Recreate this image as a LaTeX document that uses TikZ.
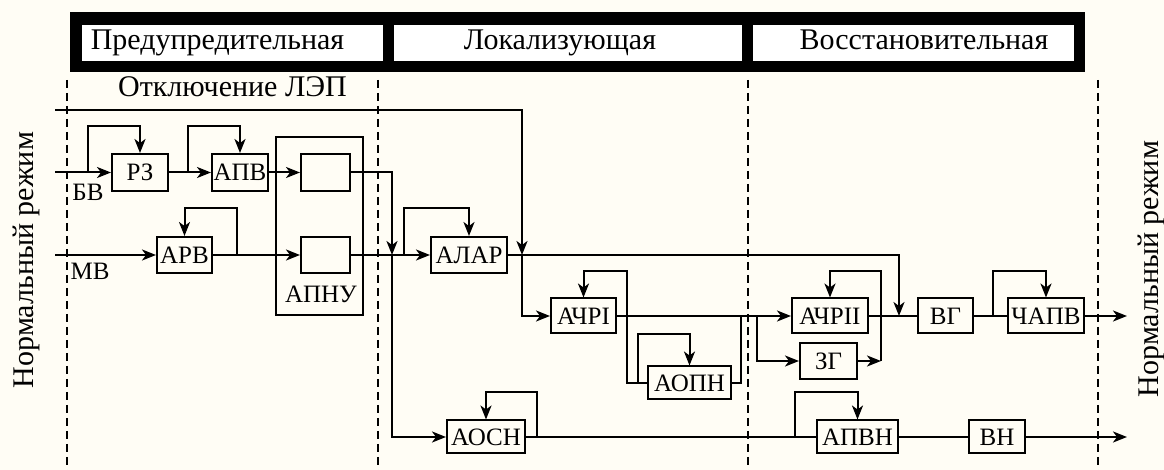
\documentclass[tikz,border=0pt]{standalone}
\usepackage{fontspec}
\setmainfont{Liberation Serif}
\usetikzlibrary{arrows.meta}
\definecolor{paper}{RGB}{255,253,245}

\begin{document}
\begin{tikzpicture}[x=0.5pt,y=-0.5pt,line width=1pt,
  blk/.style={draw,inner sep=0pt,minimum height=17.5pt,font=\fontsize{12.5}{12.5}\selectfont},
  cell/.style={fill=white,inner sep=0pt,minimum height=18pt},
  lbl/.style={inner sep=0pt,anchor=base,font=\fontsize{15}{15}\selectfont},
  sml/.style={inner sep=0pt,anchor=base,font=\fontsize{12.5}{12.5}\selectfont},
  flow/.style={-{Stealth[length=7pt,width=5.5pt,inset=2pt]}},
  sep/.style={line width=0.8pt,dash pattern=on 4pt off 2.5pt}]
\fill[paper] (0,0) rectangle (1164,470);
\useasboundingbox (0,0) rectangle (1164,470);

% stages
\fill (70,12) rectangle (1085,72);
\node[cell,minimum width=150.5pt] (H1) at (232.5,43) {};
\node[cell,minimum width=174pt] (H2) at (568,43) {};
\node[cell,minimum width=160.5pt] (H3) at (913.5,43) {};
\node[lbl] (T1) at (217.5,50) {Предупредительная};
\node[lbl] (T2) at (560,50) {Локализующая};
\node[lbl] (T3) at (924,50) {Восстановительная};

\draw[sep] (67,80) -- (67,470);
\draw[sep] (378,80) -- (378,470);
\draw[sep] (748,80) -- (748,470);
\draw[sep] (1098,80) -- (1098,470);

\node[lbl] (OFF) at (232.5,97) {Отключение ЛЭП};
\node[lbl,rotate=90] (NL) at (33,260) {Нормальный режим};
\node[lbl,rotate=90] (NR) at (1158,269) {Нормальный режим};
\node[sml] (BV) at (88,201) {БВ};
\node[sml] (MV) at (90,280) {МВ};

% blocks
\node[blk,minimum width=28pt,minimum height=18.5pt] (RZ) at (140,172.5) {РЗ};
\node[blk,minimum width=28pt,minimum height=18.5pt] (APV) at (240,172.5) {АПВ};
\node[draw,minimum width=43.5pt,minimum height=89pt] (APNU) at (319.5,226) {};
\node[blk,minimum width=24.5pt,minimum height=18.5pt] (U1) at (325.5,172.5) {};
\node[blk,minimum width=24.5pt,minimum height=18pt] (U2) at (325.5,255) {};
\node[sml] (APNUt) at (321,303) {АПНУ};
\node[blk,minimum width=27.5pt,minimum height=18pt] (ARV) at (184.5,255) {АРВ};
\node[blk,minimum width=38pt,minimum height=18pt] (ALAR) at (469,255) {АЛАР};
\node[blk,minimum width=32.5pt] (ACHR1) at (583.5,316) {АЧРI};
\node[blk,minimum width=41.5pt,minimum height=16.5pt] (AOPN) at (689.5,383) {АОПН};
\node[blk,minimum width=39pt,minimum height=16.5pt] (AOSN) at (486,437) {АОСН};
\node[blk,minimum width=38pt] (ACHR2) at (830,316) {АЧРII};
\node[blk,minimum width=28.5pt,minimum height=18pt] (ZG) at (828.5,361) {ЗГ};
\node[blk,minimum width=27.5pt] (VG) at (945.5,316) {ВГ};
\node[blk,minimum width=38pt] (CHAPV) at (1046,316) {ЧАПВ};
\node[blk,minimum width=40.5pt,minimum height=16.5pt] (APVN) at (857.5,437) {АПВН};
\node[blk,minimum width=28pt,minimum height=16.5pt] (VN) at (997,437) {ВН};

% free ends and branch points
\coordinate (top) at (55,110);
\coordinate (inB) at (55,172.5);
\coordinate (inM) at (55,255);
\coordinate (jA) at (522,255);
\coordinate (jB) at (392,255);
\coordinate (jC) at (899,316);
\coordinate (jD) at (881,361);
\coordinate (jE) at (741,316);
\coordinate (outG) at (1127,316);
\coordinate (outN) at (1127,437);
\coordinate (fRZ) at (88,172.5);
\coordinate (fAPV) at (188,172.5);
\coordinate (fARV) at (237,255);
\coordinate (fALAR) at (404,255);
\coordinate (fACHR1) at (627,316);
\coordinate (fAOPN) at (638,383);
\coordinate (fZG) at (757,316);
\coordinate (fACHR2) at (881,316);
\coordinate (fCHAPV) at (993,316);
\coordinate (fAOSN) at (537,437);
\coordinate (fAPVN) at (795,437);

\draw[flow] (inB) -- (RZ);
\draw[flow] (RZ) -- (APV);
\draw[flow] (APV) -- (U1);
\draw[flow] (U1.east) -| (jB);
\draw[flow] (jB) |- (AOSN);
\draw[flow] (inM) -- (ARV);
\draw[flow] (ARV) -- (U2);
\draw[flow] (U2) -- (ALAR);
\draw[flow] (ALAR.east) -| (jC);
\draw[flow] (top) -| (jA);
\draw[flow] (jA) |- (ACHR1);
\draw[flow] (ACHR1) -- (ACHR2);
\draw (fACHR1) |- (AOPN);
\draw (AOPN.east) -| (jE);
\draw[flow] (fZG) |- (ZG);
\draw[flow] (ZG) -- (jD);
\draw (jD) -- (fACHR2);
\draw (ACHR2) -- (VG);
\draw (VG) -- (CHAPV);
\draw[flow] (CHAPV) -- (outG);
\draw (AOSN) -- (APVN);
\draw (APVN) -- (VN);
\draw[flow] (VN) -- (outN);

\draw[flow] (fRZ) -- ++(0,-46.5) -| (RZ.north);
\draw[flow] (fAPV) -- ++(0,-46.5) -| (APV.north);
\draw[flow] (fARV) -- ++(0,-47) -| (ARV.north);
\draw[flow] (fALAR) -- ++(0,-47) -| (ALAR.north);
\draw[flow] (fACHR1) -- ++(0,-45) -| (ACHR1.north);
\draw[flow] (fAOPN) -- ++(0,-49) -| (AOPN.north);
\draw[flow] (fACHR2) -- ++(0,-45) -| (ACHR2.north);
\draw[flow] (fCHAPV) -- ++(0,-45) -| (CHAPV.north);
\draw[flow] (fAOSN) -- ++(0,-45) -| (AOSN.north);
\draw[flow] (fAPVN) -- ++(0,-45) -| (APVN.north);
\end{tikzpicture}
\end{document}
